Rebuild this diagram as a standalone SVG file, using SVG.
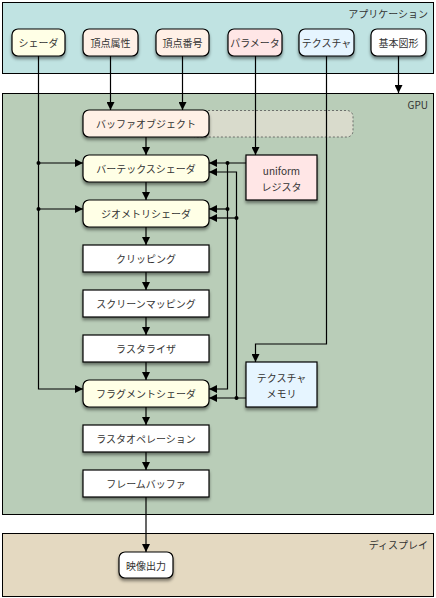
<svg xmlns="http://www.w3.org/2000/svg" width="436" height="598" viewBox="0 0 436 598">
<defs>
<filter id="sh" x="-20%" y="-30%" width="140%" height="170%">
<feDropShadow dx="0" dy="2.5" stdDeviation="1.5" flood-color="#000" flood-opacity="0.45"/>
</filter>
<marker id="ah" viewBox="0 0 10 10" refX="10" refY="5" markerWidth="8" markerHeight="8" markerUnits="userSpaceOnUse" orient="auto">
<path d="M0,0 L10,5 L0,10 z" fill="#000"/>
</marker>
</defs>
<style>
text{font-family:"Noto Sans CJK JP","Liberation Sans",sans-serif;font-size:10px;fill:#333;text-anchor:middle;dominant-baseline:central}
.lbl{text-anchor:end}
.area{stroke:#000;stroke-width:1}
.node{stroke:#000;stroke-width:1.2;filter:url(#sh)}
.edge{fill:none;stroke:#000;stroke-width:1.2}
.arr{marker-end:url(#ah)}
.dot{fill:#000}
.yel{fill:#ffffe6}
.pch{fill:#fff0e6}
.pnk{fill:#ffe6e6}
.blu{fill:#e6f5ff}
.wht{fill:#fff}
</style>

<g id="app">
<rect class="area" x="2.5" y="2.5" width="431" height="71" fill="#c0e3e2"/>
<text class="lbl" x="428" y="13">アプリケーション</text>
</g>
<g id="gpu">
<rect class="area" x="2.5" y="93.5" width="431" height="421" fill="#b9cdb8"/>
<text class="lbl" x="428" y="104">GPU</text>
</g>
<g id="display">
<rect class="area" x="2.5" y="533.5" width="431" height="63" fill="#e4d9c1"/>
<text class="lbl" x="428" y="544">ディスプレイ</text>
</g>
<g id="bufferArea">
<rect x="190" y="110.5" width="163" height="26.5" rx="6" fill="#d9dbcc" stroke="#555" stroke-width="0.8" stroke-dasharray="2,2"/>
</g>

<g id="n-shader"><rect class="node yel" x="12" y="29" width="53" height="27" rx="6"/><text x="38.5" y="42.5">シェーダ</text></g>
<g id="n-vattr"><rect class="node pch" x="83" y="29" width="55" height="27" rx="6"/><text x="110.5" y="42.5">頂点属性</text></g>
<g id="n-vidx"><rect class="node pch" x="156" y="29" width="53" height="27" rx="6"/><text x="182.5" y="42.5">頂点番号</text></g>
<g id="n-param"><rect class="node pnk" x="228" y="29" width="54" height="27" rx="6"/><text x="255" y="42.5">パラメータ</text></g>
<g id="n-tex"><rect class="node blu" x="299" y="29" width="55" height="27" rx="6"/><text x="326.5" y="42.5">テクスチャ</text></g>
<g id="n-prim"><rect class="node wht" x="371" y="29" width="55" height="27" rx="6"/><text x="398.5" y="42.5">基本図形</text></g>

<g id="n-bo"><rect class="node pch" x="83" y="110" width="126" height="27" rx="6"/><text x="146" y="123.5">バッファオブジェクト</text></g>
<g id="n-vs"><rect class="node yel" x="83" y="155" width="126" height="27" rx="6"/><text x="146" y="168.5">バーテックスシェーダ</text></g>
<g id="n-gs"><rect class="node yel" x="83" y="200" width="126" height="27" rx="6"/><text x="146" y="213.5">ジオメトリシェーダ</text></g>
<g id="n-clip"><rect class="node wht" x="83" y="245" width="126" height="27"/><text x="146" y="258.5">クリッピング</text></g>
<g id="n-sm"><rect class="node wht" x="83" y="290" width="126" height="27"/><text x="146" y="303.5">スクリーンマッピング</text></g>
<g id="n-rast"><rect class="node wht" x="83" y="335" width="126" height="27"/><text x="146" y="348.5">ラスタライザ</text></g>
<g id="n-fs"><rect class="node yel" x="83" y="380" width="126" height="27" rx="6"/><text x="146" y="393.5">フラグメントシェーダ</text></g>
<g id="n-rop"><rect class="node wht" x="83" y="425" width="126" height="27"/><text x="146" y="438.5">ラスタオペレーション</text></g>
<g id="n-fb"><rect class="node wht" x="83" y="470" width="126" height="27"/><text x="146" y="483.5">フレームバッファ</text></g>
<g id="n-uni"><rect class="node pnk" x="246" y="155" width="71" height="45"/><text x="281.5" y="170">uniform</text><text x="281.5" y="186">レジスタ</text></g>
<g id="n-tmem"><rect class="node blu" x="246" y="362" width="71" height="45"/><text x="281.5" y="377">テクスチャ</text><text x="281.5" y="393">メモリ</text></g>
<g id="n-out"><rect class="node wht" x="119" y="552" width="54" height="26" rx="6"/><text x="146" y="565">映像出力</text></g>

<g id="connectors">
<path class="edge arr" d="M38.5,56 V389 H83"/>
<path class="edge arr" d="M38.5,163 H83"/>
<path class="edge arr" d="M38.5,209 H83"/>
<path class="edge arr" d="M110.5,56 V110"/>
<path class="edge arr" d="M182.5,56 V110"/>
<path class="edge arr" d="M255.5,56 V155"/>
<path class="edge arr" d="M326.5,56 V344 H255.5 V362"/>
<path class="edge arr" d="M398.5,56 V93"/>
<path class="edge arr" d="M246,163 H209"/>
<path class="edge arr" d="M227.5,163 V389 H209"/>
<path class="edge arr" d="M227.5,209 H209"/>
<path class="edge arr" d="M246,398 H209"/>
<path class="edge arr" d="M236.5,398 V172 H209"/>
<path class="edge arr" d="M236.5,218 H209"/>
<path class="edge arr" d="M146,137 V155"/>
<path class="edge arr" d="M146,182 V200"/>
<path class="edge arr" d="M146,227 V245"/>
<path class="edge arr" d="M146,272 V290"/>
<path class="edge arr" d="M146,317 V335"/>
<path class="edge arr" d="M146,362 V380"/>
<path class="edge arr" d="M146,407 V425"/>
<path class="edge arr" d="M146,452 V470"/>
<path class="edge arr" d="M146,497 V552"/>
<circle class="dot" cx="38.5" cy="163" r="2"/>
<circle class="dot" cx="38.5" cy="209" r="2"/>
<circle class="dot" cx="227.5" cy="163" r="2"/>
<circle class="dot" cx="227.5" cy="209" r="2"/>
<circle class="dot" cx="236.5" cy="218" r="2"/>
<circle class="dot" cx="236.5" cy="398" r="2"/>
</g>
</svg>
